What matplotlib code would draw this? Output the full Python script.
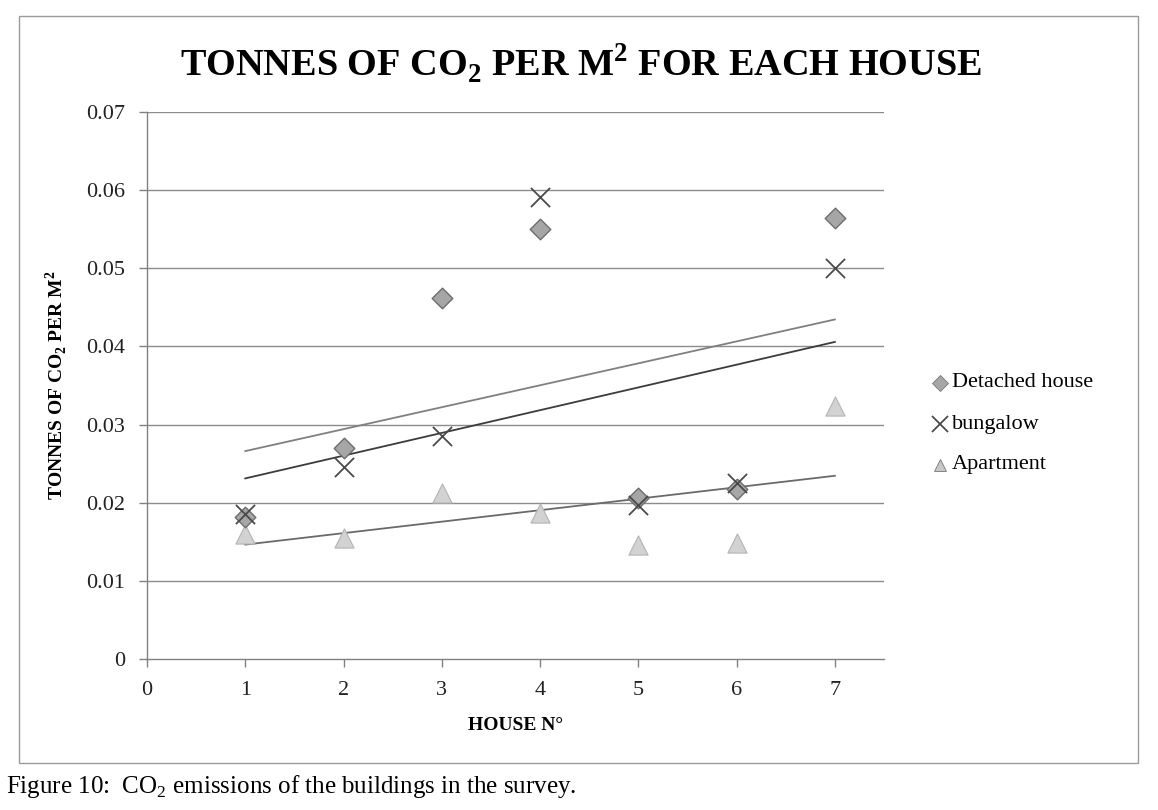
#!/usr/bin/env python3
"""Tonnes of CO2 per m2 for each house - scatter with linear trendlines."""

import numpy as np
import matplotlib.pyplot as plt
from matplotlib.patches import Rectangle

plt.rcParams['font.family'] = ['Liberation Serif', 'DejaVu Serif']
plt.rcParams['mathtext.fontset'] = 'custom'
plt.rcParams['mathtext.rm'] = 'Liberation Serif'
plt.rcParams['mathtext.bf'] = 'Liberation Serif:bold'

# Data
houses = [1, 2, 3, 4, 5, 6, 7]
detached = [0.0182, 0.0270, 0.0462, 0.0550, 0.0206, 0.0218, 0.0564]
bungalow = [0.0185, 0.0246, 0.0285, 0.0591, 0.0197, 0.0225, 0.0500]
apartment = [0.0160, 0.0155, 0.0213, 0.0187, 0.0146, 0.0148, 0.0324]

x_ticks = [0, 1, 2, 3, 4, 5, 6, 7]
y_ticks = [0, 0.01, 0.02, 0.03, 0.04, 0.05, 0.06, 0.07]

W, H = 1158, 810
fig = plt.figure(figsize=(W / 100, H / 100), dpi=100)
ax = fig.add_axes([147 / W, 1 - 659 / H, (884 - 147) / W, (659 - 112) / H])

# chart area border
fig.patches.append(Rectangle((19 / W, 1 - 763 / H), (1138 - 19) / W, (763 - 16) / H,
                             transform=fig.transFigure, fill=False,
                             edgecolor='#9a9a9a', linewidth=1.0))

for yv in y_ticks[1:]:
    ax.axhline(yv, color='#8c8c8c', linewidth=1.0, zorder=0)

x = np.array(houses, dtype=float)
trend_styles = [(detached, '#808080'), (bungalow, '#3c3c3c'), (apartment, '#6a6a6a')]
for ys, col in trend_styles:
    k, b = np.polyfit(x, ys, 1)
    ax.plot([1, 7], [k * 1 + b, k * 7 + b], color=col, linewidth=1.3, zorder=1)

ax.scatter(houses, detached, marker='D', s=110, color='#a6a6a6',
           edgecolors='#6e6e6e', linewidths=1.0, zorder=3)
ax.scatter(houses, bungalow, marker='x', s=190, color='#4a4a4a',
           linewidths=1.3, zorder=4)
ax.scatter(houses, apartment, marker='^', s=190, color='#d2d2d2',
           edgecolors='#b4b4b4', linewidths=0.8, zorder=2)

ax.set_xlim(0, 7.5)
ax.set_ylim(0, 0.07)
ax.set_xticks(x_ticks)
ax.set_yticks(y_ticks)
ax.set_yticklabels(['0'] + [f'{v:.2f}' for v in y_ticks[1:]])
ax.tick_params(axis='both', labelsize=16, color='#808080', length=6, width=1.0,
               labelcolor='#222222')
ax.tick_params(axis='x', pad=10)
ax.tick_params(axis='y', pad=10)
for side in ('top', 'right'):
    ax.spines[side].set_visible(False)
for side in ('left', 'bottom'):
    ax.spines[side].set_color('#808080')
    ax.spines[side].set_linewidth(1.0)

ax.set_xlabel('HOUSE N°', fontsize=14, fontweight='bold', labelpad=12)
ax.set_ylabel(r'TONNES OF CO$_\mathbf{2}$ PER M$^\mathbf{2}$', fontsize=14,
              fontweight='bold', labelpad=12)

fig.text(581 / W, 1 - 63 / H, r'TONNES OF CO$_\mathbf{2}$ PER M$^\mathbf{2}$ FOR EACH HOUSE',
         ha='center', va='center', fontsize=27.5, fontweight='bold')

# legend
leg_x = 940 / W
entries = [('D', '#a6a6a6', 'Detached house', 383),
           ('x', '#4a4a4a', 'bungalow', 424),
           ('^', '#c8c8c8', 'Apartment', 465)]
for mk, col, label, ypx in entries:
    yf = 1 - ypx / H
    if mk == 'x':
        fig.lines.append(plt.Line2D([leg_x], [yf], marker='x', markersize=11,
                                    color=col, mew=1.3, transform=fig.transFigure))
    else:
        fig.lines.append(plt.Line2D([leg_x], [yf], marker=mk, markersize=8,
                                    color=col, markeredgecolor='#777777', mew=0.6,
                                    linestyle='none', transform=fig.transFigure))
    fig.text(leg_x + 12 / W, yf, label, ha='left', va='center', fontsize=16)

fig.text(6 / W, 1 - 786 / H, 'Figure 10:  CO$_2$ emissions of the buildings in the survey.',
         ha='left', va='center', fontsize=18)

fig.savefig('out.png', dpi=100, facecolor='white')
